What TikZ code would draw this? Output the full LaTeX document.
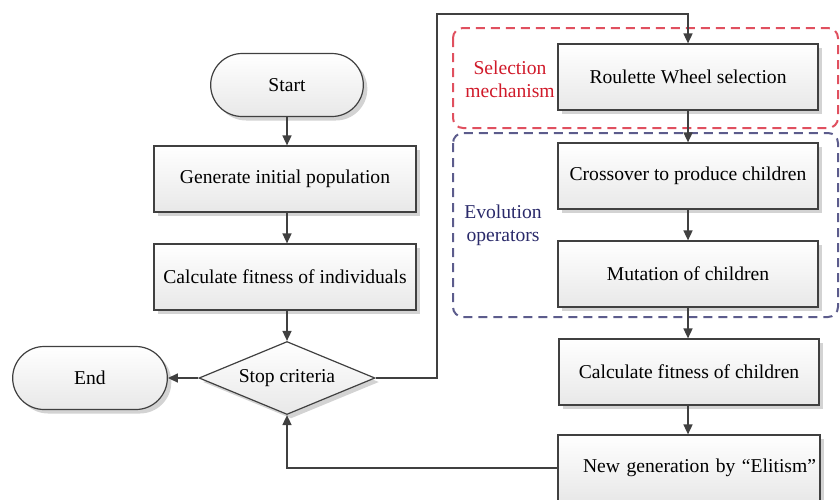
\documentclass[tikz,border=0pt]{standalone}
\usepackage{fontspec}
\setmainfont{Liberation Serif}
\usetikzlibrary{shapes.geometric,shapes.misc,shadows,arrows.meta}
\definecolor{linegray}{HTML}{404040}
\definecolor{selred}{HTML}{E0505F}
\definecolor{seltext}{HTML}{D01A2A}
\definecolor{evoblue}{HTML}{5C5C8C}
\definecolor{evotext}{HTML}{2A2A6A}
\begin{document}
\begin{tikzpicture}[x=0.5pt,y=-0.5pt,font=\fontsize{9.8}{11.5}\selectfont,
  base/.style={draw=linegray,line width=0.6pt,top color=white,bottom color=gray!18,
    drop shadow={shadow xshift=2pt,shadow yshift=-2pt,opacity=0.35,fill=gray}},
  procbox/.style={base,rectangle,minimum width=131pt,minimum height=33pt},
  termbox/.style={base,rounded rectangle,minimum width=77pt,minimum height=31.5pt},
  decbox/.style={base,diamond,aspect=2.4,inner sep=1pt,minimum width=88pt,minimum height=36.5pt},
  arrow/.style={draw=linegray,line width=0.8pt,-{Triangle[length=5pt,width=4.5pt]}},
  group/.style={line width=1pt,dash pattern=on 4.5pt off 3pt,rounded corners=5pt}]
  \useasboundingbox (0,0) rectangle (840,499);

  % dashed groups
  \draw[group,selred] (453,28) rectangle (838,128);
  \draw[group,evoblue] (453,133) rectangle (838,317);
  \node[seltext,align=center] (sellbl) at (510,79) {Selection\\mechanism};
  \node[evotext,align=center] (evolbl) at (503,225) {Evolution\\operators};

  % left column
  \node[termbox,minimum width=83pt] (start) at (287,85) {Start};
  \node[procbox] (init) at (285,179) {Generate initial population};
  \node[procbox] (fitind) at (285,277) {Calculate fitness of individuals};
  \node[decbox] (stop) at (287,378) {Stop criteria};
  \node[termbox,minimum width=84pt] (end) at (90,378) {End};

  % right column
  \node[procbox,minimum width=130pt] (roul) at (688,77) {Roulette Wheel selection};
  \node[procbox,minimum width=130pt] (cross) at (688,176) {Crossover to produce children};
  \node[procbox,minimum width=130pt] (mut) at (688,274) {Mutation of children};
  \node[procbox,minimum width=130pt] (fitch) at (689,372) {Calculate fitness of children};
  \node[procbox,text width=127pt,inner xsep=2pt,align=right] (elit) at (689,468) {New generation by “Elitism”};
  \coordinate (top) at (437,14);

  % connectors
  \draw[arrow] (start.south) -- (start.south |- init.north);
  \draw[arrow] (start.south |- init.south) -- (start.south |- fitind.north);
  \draw[arrow] (start.south |- fitind.south) -- (stop.north);
  \draw[arrow] (stop.west) -- (end.east);
  \draw[arrow] (stop.east) -| (top) -| (roul.north);
  \draw[arrow] (roul.south) -- (cross.north);
  \draw[arrow] (cross.south) -- (mut.north);
  \draw[arrow] (mut.south) -- (fitch.north -| mut.south);
  \draw[arrow] (fitch.south -| mut.south) -- (elit.north -| mut.south);
  \draw[arrow] (elit.west) -| (stop.south);
\end{tikzpicture}
\end{document}
